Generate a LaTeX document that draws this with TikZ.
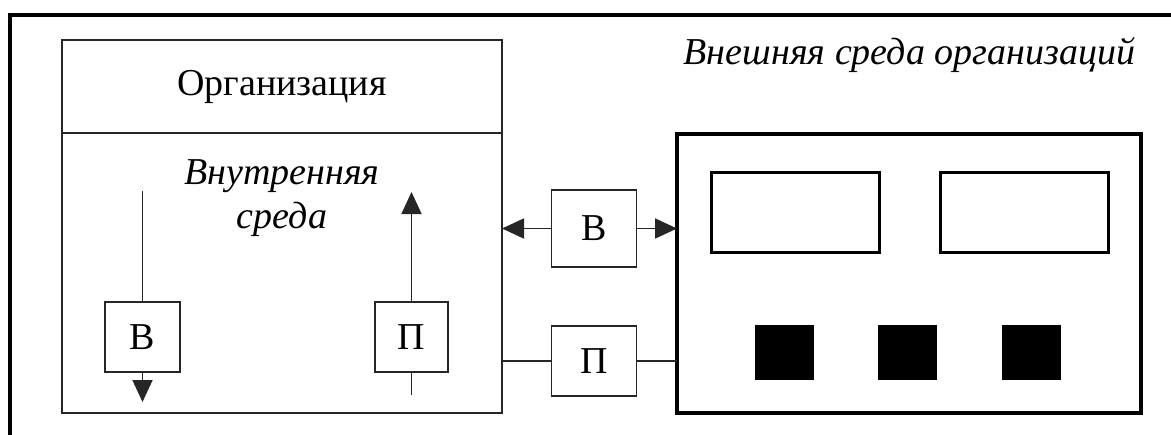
\documentclass[tikz,border=0pt]{standalone}
\usepackage{fontspec}
\setmainfont{Liberation Serif}
\usetikzlibrary{arrows.meta}
\begin{document}
\begin{tikzpicture}[x=0.5pt,y=-0.5pt,line width=0.9pt,draw=black!85,
	every node/.style={inner sep=0pt,outer sep=0pt,font=\fontsize{19}{22}\selectfont},
	box/.style={rectangle,draw},
	tip/.style={-{Triangle[length=11pt,width=10pt]}}]
	\useasboundingbox (0,0) rectangle (1171,434);
	\clip (0,0) rectangle (1171,434);
	\draw[line width=1.6pt,draw=black] (10,15) rectangle (1190,460);
	\node (outer) at (1135,55)	[anchor=east,font=\fontsize{19}{22}\selectfont\itshape]	{Внешняя среда организаций};
	\node (org) at (282,226.5)	[box,minimum width=220pt,minimum height=186.5pt]	{};
	\node (orgtitle) at (282,86.5)	[box,minimum width=220pt,minimum height=46.5pt]	{Организация};
	\node (inner) at (282,198)	[align=center,font=\fontsize{19}{22}\selectfont\itshape]	{Внутренняя\\среда};
	\node (bin) at (142.5,337)	[box,minimum width=37.5pt,minimum height=35pt]	{В};
	\node (pin) at (411.5,337)	[box,minimum width=36.5pt,minimum height=35pt]	{П};
	\coordinate (btop) at (142.5,191);
	\coordinate (bbot) at (142.5,402);
	\coordinate (ptop) at (411.5,192);
	\coordinate (pbot) at (411.5,395);
	\draw (btop) -- (bin.north);
	\draw[tip] (bin.south) -- (bbot);
	\draw (pbot) -- (pin.south);
	\draw[tip] (pin.north) -- (ptop);
	\node (bmid) at (594,228.5)	[box,minimum width=42.5pt,minimum height=38.5pt]	{В};
	\node (pmid) at (594,361)	[box,minimum width=42.5pt,minimum height=35pt]	{П};
	\node (env) at (909,273.5)	[box,draw=black,line width=2pt,minimum width=232pt,minimum height=139.5pt]	{};
	\node (r1) at (795,212)	[box,draw=black,line width=1.5pt,minimum width=84pt,minimum height=40pt]	{};
	\node (r2) at (1024,212)	[box,draw=black,line width=1.5pt,minimum width=84pt,minimum height=40pt]	{};
	\node (s1) at (784.5,352.5)	[rectangle,fill=black,minimum width=29.5pt,minimum height=27.5pt]	{};
	\node (s2) at (907,352.5)	[rectangle,fill=black,minimum width=29.5pt,minimum height=27.5pt]	{};
	\node (s3) at (1031,352.5)	[rectangle,fill=black,minimum width=29.5pt,minimum height=27.5pt]	{};
	\draw[tip] (bmid.west) -- (bmid.west -| org.east);
	\draw[tip] (bmid.east) -- (bmid.east -| env.west);
	\draw (pmid.west) -- (pmid.west -| org.east);
	\draw (pmid.east) -- (pmid.east -| env.west);
\end{tikzpicture}
\end{document}
